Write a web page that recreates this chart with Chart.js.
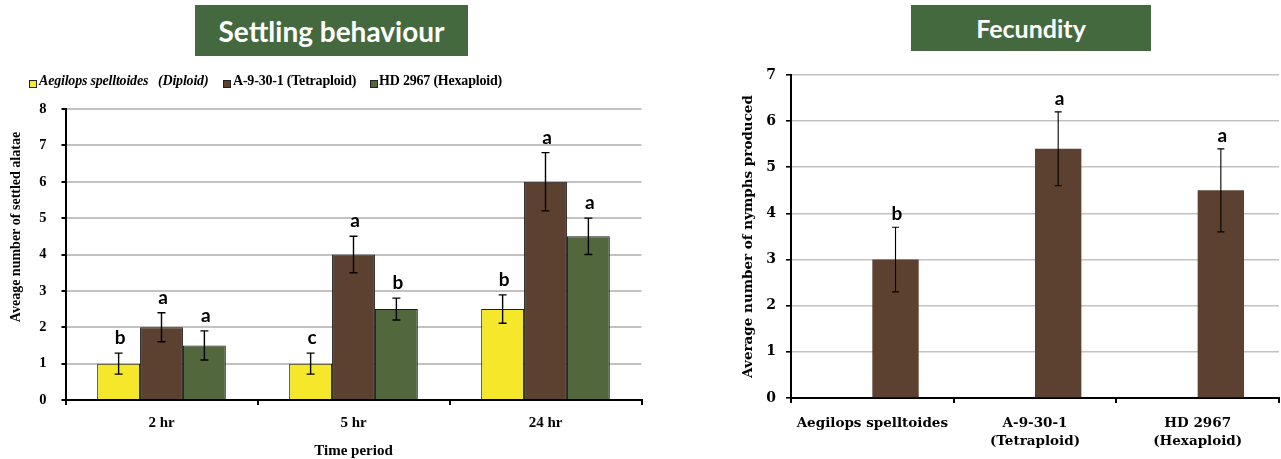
<!DOCTYPE html>
<html>
<head>
<meta charset="utf-8">
<script src="https://cdn.jsdelivr.net/npm/chart.js@4.4.1/dist/chart.umd.min.js"></script>
<style>
  html, body { margin: 0; padding: 0; background: #fff; }
  body { width: 1281px; height: 459px; position: relative; overflow: hidden; }
  .wrap { position: absolute; top: 0; }
  .tbox { position: absolute; background: #45693f; color: #fff; font-family: 'Lato', sans-serif; font-weight: bold;
          display: flex; align-items: center; justify-content: center; }
  .leg { position: absolute; top: 72px; font-family: 'Liberation Serif', serif; font-weight: bold; font-size: 14px; color: #000; white-space: pre; line-height: 18px; letter-spacing: -0.2px; }
  .sq { position: absolute; top: 80px; width: 6px; height: 6px; border: 1px solid #222; }
</style>
</head>
<body>
<div class="wrap" style="left:0;width:650px;height:459px;"><canvas id="c1"></canvas></div>
<div class="wrap" style="left:700px;width:581px;height:459px;"><canvas id="c2"></canvas></div>

<div class="tbox" style="left:195px;top:5px;width:273px;height:51px;font-size:28px;">Settling behaviour</div>
<div class="tbox" style="left:911px;top:5px;width:240px;height:46px;font-size:25px;">Fecundity</div>

<div class="sq" style="left:29px;background:#f5e82a;"></div>
<div class="leg" style="left:39px;font-style:italic;">Aegilops spelltoides   (Diploid)</div>
<div class="sq" style="left:223px;background:#5c4030;"></div>
<div class="leg" style="left:233px;">A-9-30-1 (Tetraploid)</div>
<div class="sq" style="left:370px;background:#53673d;"></div>
<div class="leg" style="left:379px;">HD 2967 (Hexaploid)</div>

<script>
// ---------- Settling behaviour data ----------
const timePeriods = ['2 hr', '5 hr', '24 hr'];
const diploidMean = [1, 1, 2.5];
const diploidErr = [0.29, 0.29, 0.39];
const diploidLetters = ['b', 'c', 'b'];
const tetraploidMean = [2, 4, 6];
const tetraploidErr = [0.4, 0.5, 0.8];
const tetraploidLetters = ['a', 'a', 'a'];
const hexaploidMean = [1.5, 2.5, 4.5];
const hexaploidErr = [0.4, 0.3, 0.5];
const hexaploidLetters = ['a', 'b', 'a'];
const settlingTicks = [0, 1, 2, 3, 4, 5, 6, 7, 8];

// ---------- Fecundity data ----------
const genotypes = [['Aegilops spelltoides'], ['A-9-30-1', '(Tetraploid)'], ['HD 2967', '(Hexaploid)']];
const fecundityMean = [3, 5.4, 4.5];
const fecundityErr = [0.7, 0.8, 0.9];
const fecundityLetters = ['b', 'a', 'a'];
const emptySlot = [null, null, null];
const fecundityTicks = [0, 1, 2, 3, 4, 5, 6, 7];

const COL_YEL = '#f5e82a', COL_BRN = '#5c4030', COL_GRN = '#53673d';

// plugin: error bars + significance letters
const errorBarPlugin = {
  id: 'errorBars',
  afterDatasetsDraw(chart, args, opts) {
    const ctx = chart.ctx;
    const y = chart.scales.y;
    chart.data.datasets.forEach((ds, i) => {
      if (!ds.err) return;
      const meta = chart.getDatasetMeta(i);
      meta.data.forEach((bar, j) => {
        const v = ds.data[j];
        if (v == null) return;
        const e = ds.err[j];
        const yt = y.getPixelForValue(v + e);
        const yb = y.getPixelForValue(v - e);
        ctx.save();
        ctx.strokeStyle = '#000';
        ctx.lineWidth = opts.lineWidth;
        ctx.beginPath();
        ctx.moveTo(bar.x, yt); ctx.lineTo(bar.x, yb);
        ctx.moveTo(bar.x - opts.cap, yt); ctx.lineTo(bar.x + opts.cap, yt);
        ctx.moveTo(bar.x - opts.cap, yb); ctx.lineTo(bar.x + opts.cap, yb);
        ctx.stroke();
        ctx.fillStyle = '#000';
        ctx.font = 'bold 19px Lato';
        ctx.textAlign = 'center';
        ctx.textBaseline = 'alphabetic';
        ctx.fillText(ds.letters[j], bar.x + 1.5, yt - opts.gap);
        ctx.restore();
      });
    });
  }
};

// plugin: free-positioned y title (left chart)
const leftTitlePlugin = {
  id: 'leftTitle',
  afterDraw(chart) {
    const ctx = chart.ctx;
    ctx.save();
    ctx.translate(16, 227);
    ctx.rotate(-Math.PI / 2);
    ctx.font = 'bold 14px "Liberation Serif"';
    ctx.fillStyle = '#000';
    ctx.textAlign = 'center';
    ctx.textBaseline = 'middle';
    ctx.fillText('Aveage number of settled alatae', 0, 0);
    ctx.restore();
  }
};

const serifBold = (s) => ({ family: 'Liberation Serif', weight: 'bold', size: s });
const gridCol = (c) => (c.tick && c.tick.value === 0) ? 'rgba(0,0,0,0)' : '#c2c2c2';

new Chart(document.getElementById('c1'), {
  type: 'bar',
  data: {
    labels: timePeriods,
    datasets: [
      { label: 'Aegilops spelltoides (Diploid)', data: diploidMean, err: diploidErr, letters: diploidLetters,
        backgroundColor: COL_YEL, borderColor: '#1a1a1a', borderWidth: 1 },
      { label: 'A-9-30-1 (Tetraploid)', data: tetraploidMean, err: tetraploidErr, letters: tetraploidLetters,
        backgroundColor: COL_BRN, borderColor: '#1a1a1a', borderWidth: 1 },
      { label: 'HD 2967 (Hexaploid)', data: hexaploidMean, err: hexaploidErr, letters: hexaploidLetters,
        backgroundColor: COL_GRN, borderColor: '#1a1a1a', borderWidth: 1 }
    ]
  },
  options: {
    responsive: true, maintainAspectRatio: false, animation: false,
    layout: { padding: { left: 0, right: 8.5, top: 109, bottom: 0 } },
    datasets: { bar: { categoryPercentage: 0.67, barPercentage: 1.0 } },
    plugins: { legend: { display: false }, tooltip: { enabled: false },
               errorBars: { lineWidth: 1.4, cap: 4, gap: 9 } },
    scales: {
      x: {
        afterFit: (s) => { s.height = 59; },
        grid: { offset: true, drawOnChartArea: false, drawTicks: true, tickLength: 5, tickColor: '#000', lineWidth: 2 },
        border: { color: '#000', width: 2 },
        ticks: { color: '#000', font: serifBold(15), padding: 9 },
        title: { display: true, text: 'Time period', color: '#000', font: { ...serifBold(15), lineHeight: 1 }, padding: { top: 0, bottom: 0 } }
      },
      y: {
        min: 0, max: 8,
        afterFit: (s) => { s.width = 65.5; },
        afterBuildTicks: (s) => { s.ticks = settlingTicks.map(v => ({ value: v })); },
        grid: { color: gridCol, lineWidth: 2, drawTicks: true, tickLength: 4, tickColor: '#000' },
        border: { color: '#000', width: 2 },
        ticks: { color: '#000', font: serifBold(14.5), padding: 15 }
      }
    }
  },
  plugins: [errorBarPlugin, leftTitlePlugin]
});

new Chart(document.getElementById('c2'), {
  type: 'bar',
  data: {
    labels: genotypes,
    datasets: [
      { label: '', data: emptySlot, backgroundColor: 'rgba(0,0,0,0)' },
      { label: 'Fecundity', data: fecundityMean, err: fecundityErr, letters: fecundityLetters,
        backgroundColor: COL_BRN, borderWidth: 0 }
    ]
  },
  options: {
    responsive: true, maintainAspectRatio: false, animation: false,
    layout: { padding: { left: 0, right: 2, top: 75, bottom: 0 } },
    datasets: { bar: { categoryPercentage: 0.57, barPercentage: 1.0 } },
    plugins: { legend: { display: false }, tooltip: { enabled: false },
               errorBars: { lineWidth: 1.1, cap: 3.5, gap: 7 } },
    scales: {
      x: {
        afterFit: (s) => { s.height = 61; },
        grid: { offset: true, drawOnChartArea: false, drawTicks: true, tickLength: 5, tickColor: '#000', lineWidth: 2 },
        border: { color: '#000', width: 2 },
        ticks: { color: '#000', font: { family: 'DejaVu Serif', weight: 'bold', size: 13.5, lineHeight: 1.32 }, padding: 12, maxRotation: 0, autoSkip: false }
      },
      y: {
        min: 0, max: 7,
        afterFit: (s) => { s.width = 91; },
        afterBuildTicks: (s) => { s.ticks = fecundityTicks.map(v => ({ value: v })); },
        grid: { color: gridCol, lineWidth: 1.6, drawTicks: true, tickLength: 5, tickColor: '#000' },
        border: { color: '#000', width: 2 },
        ticks: { color: '#000', font: { family: 'DejaVu Serif', weight: 'bold', size: 14 }, padding: 10 },
        title: { display: true, text: 'Average number of nymphs produced', color: '#000',
                 font: { family: 'DejaVu Serif', weight: 'bold', size: 13.5, lineHeight: 1.2 }, padding: { top: 40, bottom: 0 } }
      }
    }
  },
  plugins: [errorBarPlugin]
});
</script>
</body>
</html>
